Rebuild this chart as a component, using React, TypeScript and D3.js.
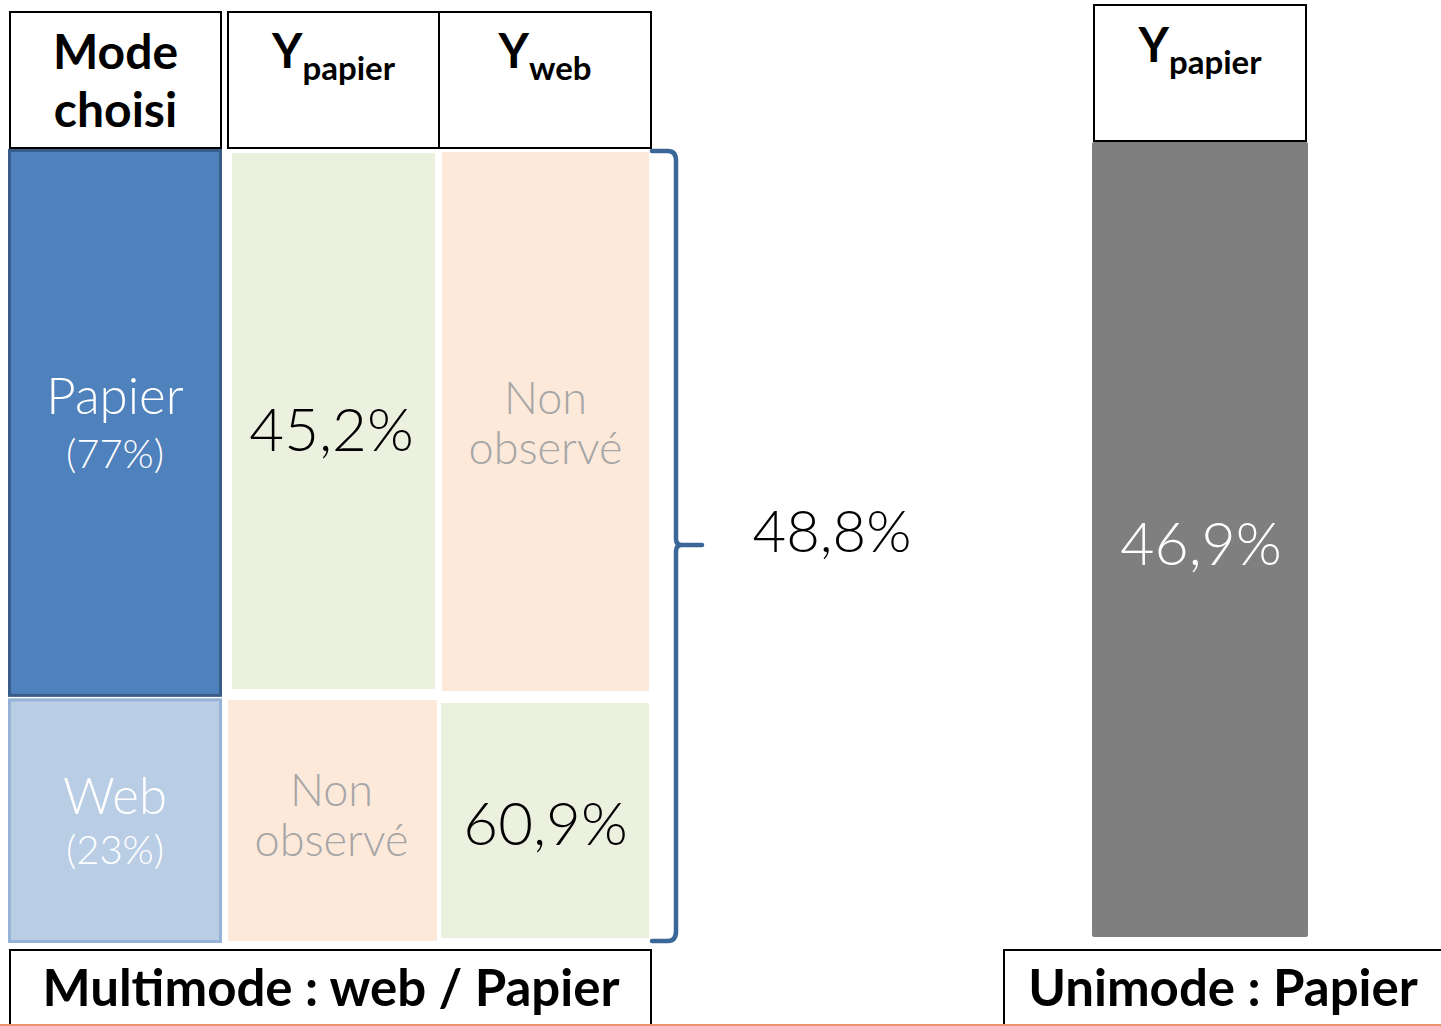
import { scaleBand, scaleLinear } from 'd3';

// columns of the multimode table
const columnKeys = ['mode', 'papier', 'web'];
const columnHeaders = [
  { key: 'mode', lines: ['Mode', 'choisi'] },
  { key: 'papier', main: 'Y', sub: 'papier' },
  { key: 'web', main: 'Y', sub: 'web' },
];

// rows: chosen mode and its share
const modeRows = ['Papier', 'Web'];
const modeShares = ['(77%)', '(23%)'];

// cell values per row (null = not observed)
const papierValues = ['45,2%', null];
const webValues = [null, '60,9%'];

const multimodeTotal = '48,8%';
const unimodeValue = '46,9%';
const unimodeHeader = { main: 'Y', sub: 'papier' };
const footerLabels = ['Multimode : web / Papier', 'Unimode : Papier'];

const W = 1441;
const H = 1026;
const FONT = 'Lato, "Open Sans", sans-serif';

const GREEN = '#ebf0df';
const PEACH = '#fde9da';
const BRACE = '#3a6698';

// header box offsets inside each band [left inset, width]
const headerBox: Record<string, [number, number]> = {
  mode: [2, 211],
  papier: [5, 211],
  web: [1, 212],
};

export default function App() {
  const x = scaleBand<string>().domain(columnKeys).range([8, 653]);
  // vertical split of the table body (share of body height)
  const y = scaleLinear().domain([0, 1]).range([149, 943]);
  const rowSplit = 0.69;
  const rowY = (i: number) => (i === 0 ? [y(0), y(rowSplit)] : [y(rowSplit), y(1)]);

  const headerTop = 12;
  const headerBottom = 148;
  const bw = x.bandwidth();

  const cellText = (label: string | null, cx: number, cy: number, key: string) =>
    label ? (
      <text key={key} x={cx} y={cy + 22} textAnchor="middle" fontSize={60} fontWeight={300} fill="#000">
        {label}
      </text>
    ) : (
      <text key={key} x={cx} textAnchor="middle" fontSize={45} fontWeight={300} fill="#a6a6a6">
        <tspan x={cx} y={cy - 9}>Non</tspan>
        <tspan x={cx} y={cy + 41}>observé</tspan>
      </text>
    );

  const bodyTop = y(0);
  const bodyBottom = y(1);
  const braceX0 = 652;
  const braceX = 676;
  const braceMid = 545;

  const bracePath = [
    `M${braceX0},${bodyTop + 2}`,
    `L${braceX - 8},${bodyTop + 2}`,
    `Q${braceX},${bodyTop + 2} ${braceX},${bodyTop + 12}`,
    `L${braceX},${braceMid - 6}`,
    `Q${braceX},${braceMid} ${braceX + 6},${braceMid}`,
    `L${braceX + 26},${braceMid}`,
    `M${braceX + 6},${braceMid}`,
    `Q${braceX},${braceMid} ${braceX},${braceMid + 6}`,
    `L${braceX},${bodyBottom - 12}`,
    `Q${braceX},${bodyBottom - 2} ${braceX - 8},${bodyBottom - 2}`,
    `L${braceX0},${bodyBottom - 2}`,
  ].join(' ');

  const uniX = scaleBand<string>().domain(['papier']).range([1092, 1308]);
  const uniTop = 142;
  const uniBottom = 937;

  // cell rectangles [dx0, dy0, dx1, dy1] insets per column/row
  const papierInset = [
    [232, 153, 435, 689],
    [228, 700, 437, 941],
  ];
  const webInset = [
    [442, 152, 649, 691],
    [441, 703, 649, 938],
  ];

  return (
    <div style={{ position: 'absolute', left: 0, top: 0 }}>
      <svg width={W} height={H} viewBox={`0 0 ${W} ${H}`} style={{ display: 'block', fontFamily: FONT }}>
        <rect width={W} height={H} fill="#fff" />

        {/* header boxes */}
        {columnHeaders.map((h) => {
          const [dx, w] = headerBox[h.key];
          const x0 = (x(h.key) ?? 0) + dx;
          const cx = x0 + w / 2;
          return (
            <g key={h.key}>
              <rect x={x0} y={headerTop} width={w} height={headerBottom - headerTop} fill="#fff" stroke="#000" strokeWidth={2} />
              {h.lines ? (
                <text textAnchor="middle" fontSize={48} fontWeight={700} fill="#000">
                  <tspan x={cx} y={69}>{h.lines[0]}</tspan>
                  <tspan x={cx} y={127}>{h.lines[1]}</tspan>
                </text>
              ) : (
                <text x={cx} y={68} textAnchor="middle" fontWeight={700} fill="#000">
                  <tspan fontSize={47}>{h.main}</tspan>
                  <tspan fontSize={33} dy={12}>{h.sub}</tspan>
                </text>
              )}
            </g>
          );
        })}

        {/* mode column */}
        {modeRows.map((m, i) => {
          const [y0, y1] = rowY(i);
          const x0 = x('mode') ?? 0;
          const w = 214;
          const cy = (y0 + y1) / 2;
          const cx = x0 + w / 2;
          const fill = i === 0 ? '#4f81bd' : '#b9cde5';
          const stroke = i === 0 ? '#385d8a' : '#95b3d7';
          const top = i === 0 ? y0 + 1.5 : y0 + 3;
          const bottom = i === 0 ? y1 - 1.5 : y1 - 1.5;
          return (
            <g key={m}>
              <rect x={x0 + 1.5} y={top} width={w - 3} height={bottom - top} fill={fill} stroke={stroke} strokeWidth={3} />
              <text textAnchor="middle" fontWeight={300} fill="#fff">
                <tspan x={cx} y={i === 0 ? cy - 9 : cy - 6} fontSize={51}>{m}</tspan>
                <tspan x={cx} y={i === 0 ? cy + 45 : cy + 44} fontSize={40}>{modeShares[i]}</tspan>
              </text>
            </g>
          );
        })}

        {/* papier column */}
        {papierValues.map((v, i) => {
          const [x0, y0, x1, y1] = papierInset[i];
          const [ry0, ry1] = rowY(i);
          return (
            <g key={`p${i}`}>
              <rect x={x0} y={y0} width={x1 - x0} height={y1 - y0} fill={v ? GREEN : PEACH} />
              {cellText(v, (x(('papier')) ?? 0) + bw / 2 + 1, (ry0 + ry1) / 2 + (i === 0 ? 6 : -5), `pt${i}`)}
            </g>
          );
        })}

        {/* web column */}
        {webValues.map((v, i) => {
          const [x0, y0, x1, y1] = webInset[i];
          const [ry0, ry1] = rowY(i);
          return (
            <g key={`w${i}`}>
              <rect x={x0} y={y0} width={x1 - x0} height={y1 - y0} fill={v ? GREEN : PEACH} />
              {cellText(v, (x('web') ?? 0) + bw / 2, (ry0 + ry1) / 2 + (i === 0 ? 0 : 3), `wt${i}`)}
            </g>
          );
        })}

        {/* brace */}
        <path d={bracePath} fill="none" stroke={BRACE} strokeWidth={4.5} strokeLinecap="round" strokeLinejoin="round" />
        <text x={832} y={552} textAnchor="middle" fontSize={58} fontWeight={300} fill="#000">
          {multimodeTotal}
        </text>

        {/* unimode */}
        <rect x={(uniX('papier') ?? 0) + 2} y={5} width={uniX.bandwidth() - 4} height={uniTop - 6} fill="#fff" stroke="#000" strokeWidth={2} />
        <text x={(uniX('papier') ?? 0) + uniX.bandwidth() / 2} y={62} textAnchor="middle" fontWeight={700} fill="#000">
          <tspan fontSize={47}>{unimodeHeader.main}</tspan>
          <tspan fontSize={33} dy={12}>{unimodeHeader.sub}</tspan>
        </text>
        <rect x={uniX('papier') ?? 0} y={uniTop} width={uniX.bandwidth()} height={uniBottom - uniTop} fill="#7f7f7f" rx={2} />
        <text x={(uniX('papier') ?? 0) + uniX.bandwidth() / 2 + 1} y={565} textAnchor="middle" fontSize={59} fontWeight={300} fill="#fff">
          {unimodeValue}
        </text>

        {/* footers */}
        <rect x={10} y={950} width={641} height={90} fill="#fff" stroke="#000" strokeWidth={2} />
        <text x={331} y={1006} textAnchor="middle" fontSize={51} fontWeight={700} fill="#000">
          {footerLabels[0]}
        </text>
        <rect x={1004} y={950} width={460} height={90} fill="#fff" stroke="#000" strokeWidth={2} />
        <text x={1223} y={1006} textAnchor="middle" fontSize={51} fontWeight={700} fill="#000">
          {footerLabels[1]}
        </text>
        <line x1={0} x2={W} y1={1025} y2={1025} stroke="#e9926c" strokeWidth={2} />
      </svg>
    </div>
  );
}
